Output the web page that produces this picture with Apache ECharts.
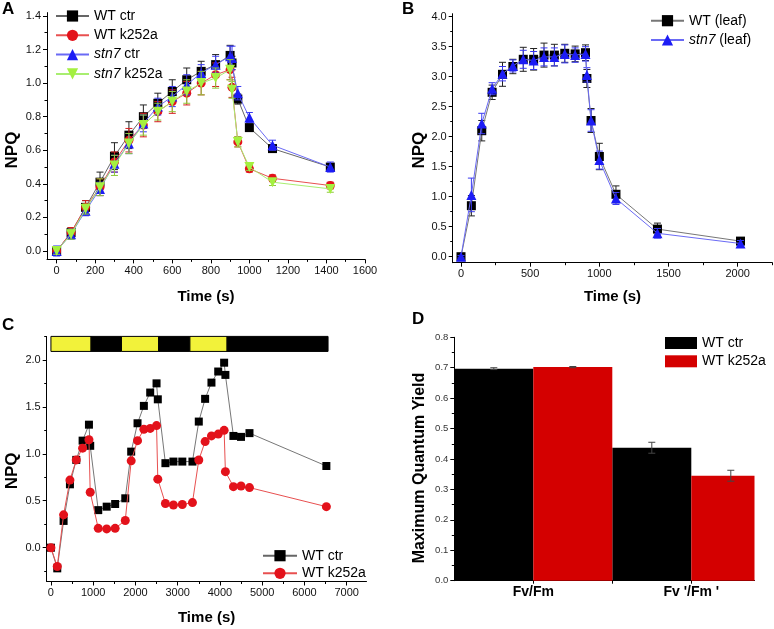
<!DOCTYPE html>
<html>
<head>
<meta charset="utf-8">
<title>NPQ kinetics</title>
<script src="https://cdn.jsdelivr.net/npm/echarts@6.0.0/dist/echarts.min.js"></script>
<style>
  html, body { margin: 0; padding: 0; background: #fff; }
  #chart { width: 774px; height: 629px; }
</style>
</head>
<body>
<div id="chart"></div>
<script>
// ---- panel A: NPQ of isolated samples ----
var timeA = [0, 75, 150, 225, 300, 375, 450, 525, 600, 675, 750, 825, 900, 910, 940, 1000, 1120, 1420];
var wtCtrA = [0, 0.11, 0.26, 0.41, 0.565, 0.69, 0.80, 0.88, 0.95, 1.02, 1.07, 1.11, 1.165, 1.12, 0.905, 0.735, 0.61, 0.50];
var wtCtrAErr = [0.02, 0.03, 0.04, 0.06, 0.08, 0.08, 0.07, 0.06, 0.07, 0.07, 0.06, 0.06, 0.06, 0.04, 0.03, 0.02, 0.02, 0.02];
var wtK252aA = [0, 0.11, 0.26, 0.38, 0.53, 0.66, 0.75, 0.83, 0.89, 0.94, 1.00, 1.05, 1.08, 0.975, 0.65, 0.49, 0.433, 0.39];
var wtK252aAErr = [0.02, 0.03, 0.04, 0.05, 0.06, 0.07, 0.07, 0.06, 0.07, 0.07, 0.07, 0.07, 0.06, 0.06, 0.03, 0.02, 0.02, 0.02];
var stnCtrA = [0, 0.10, 0.24, 0.37, 0.52, 0.64, 0.76, 0.86, 0.92, 0.99, 1.06, 1.11, 1.16, 1.15, 0.94, 0.795, 0.63, 0.50];
var stnCtrAErr = [0.03, 0.03, 0.03, 0.04, 0.05, 0.06, 0.05, 0.05, 0.06, 0.06, 0.05, 0.05, 0.06, 0.07, 0.04, 0.03, 0.03, 0.03];
var stnK252aA = [0, 0.10, 0.25, 0.38, 0.51, 0.64, 0.75, 0.83, 0.89, 0.95, 1.00, 1.03, 1.08, 0.96, 0.65, 0.50, 0.41, 0.37];
var stnK252aAErr = [0.02, 0.03, 0.03, 0.05, 0.06, 0.06, 0.06, 0.05, 0.06, 0.07, 0.07, 0.06, 0.06, 0.05, 0.03, 0.02, 0.02, 0.02];
var xTicksA = [0, 200, 400, 600, 800, 1000, 1200, 1400, 1600];
var xMinorA = [100, 300, 500, 700, 900, 1100, 1300, 1500];
var yTicksA = [0, 0.2, 0.4, 0.6, 0.8, 1.0, 1.2, 1.4];
var yMinorA = [0.1, 0.3, 0.5, 0.7, 0.9, 1.1, 1.3];

// ---- panel B: leaves ----
var timeB = [0, 75, 150, 225, 300, 375, 450, 525, 600, 675, 750, 825, 900, 910, 940, 1000, 1120, 1420, 2020];
var wtLeafB = [0, 0.85, 2.10, 2.74, 3.04, 3.17, 3.29, 3.29, 3.36, 3.36, 3.39, 3.38, 3.40, 2.97, 2.27, 1.67, 1.04, 0.46, 0.26];
var wtLeafBErr = [0.02, 0.17, 0.17, 0.12, 0.20, 0.12, 0.20, 0.18, 0.20, 0.18, 0.15, 0.13, 0.13, 0.15, 0.20, 0.22, 0.14, 0.10, 0.04];
var stnLeafB = [0, 1.03, 2.22, 2.80, 3.05, 3.18, 3.29, 3.27, 3.33, 3.33, 3.38, 3.36, 3.38, 3.03, 2.27, 1.61, 0.97, 0.39, 0.22];
var stnLeafBErr = [0.02, 0.28, 0.17, 0.10, 0.12, 0.10, 0.15, 0.15, 0.15, 0.15, 0.15, 0.12, 0.12, 0.12, 0.18, 0.15, 0.10, 0.08, 0.05];
var xTicksB = [0, 500, 1000, 1500, 2000];
var xMinorB = [250, 750, 1250, 1750, 2250];
var yTicksB = [0, 0.5, 1.0, 1.5, 2.0, 2.5, 3.0, 3.5, 4.0];
var yMinorB = [0.25, 0.75, 1.25, 1.75, 2.25, 2.75, 3.25, 3.75];

// ---- panel C: light / dark cycles ----
var timeC = [0, 150, 300, 450, 600, 750, 900, 930, 1120, 1320, 1520, 1760, 1900, 2050, 2200, 2350, 2500, 2530,
             2710, 2900, 3110, 3350, 3500, 3650, 3800, 3960, 4100, 4130, 4320, 4500, 4700, 6520];
var wtCtrC = [0, -0.22, 0.285, 0.675, 0.935, 1.14, 1.31, 1.085, 0.40, 0.437, 0.465, 0.526, 1.023, 1.325, 1.51, 1.652, 1.75, 1.58,
              0.90, 0.917, 0.917, 0.917, 1.343, 1.585, 1.758, 1.876, 1.97, 1.84, 1.19, 1.18, 1.22, 0.87];
var wtK252aC = [0, -0.20, 0.35, 0.72, 0.935, 1.06, 1.15, 0.59, 0.206, 0.20, 0.206, 0.29, 0.925, 1.14, 1.26, 1.27, 1.30, 0.73,
                0.47, 0.455, 0.46, 0.48, 0.934, 1.13, 1.19, 1.21, 1.25, 0.81, 0.65, 0.657, 0.64, 0.437];
// [start, end, phase]
var phasesC = [[0, 950, 'light'], [950, 1670, 'dark'], [1670, 2550, 'light'], [2550, 3290, 'dark'], [3290, 4170, 'light'], [4170, 6560, 'dark']];
var xTicksC = [0, 1000, 2000, 3000, 4000, 5000, 6000, 7000];
var xMinorC = [500, 1500, 2500, 3500, 4500, 5500, 6500];
var yTicksC = [0, 0.5, 1.0, 1.5, 2.0];
var yMinorC = [-0.25, 0.25, 0.75, 1.25, 1.75, 2.25];

// ---- panel D: maximum quantum yield ----
var categoriesD = ['Fv/Fm', "Fv '/Fm '"];
var wtCtrD = [0.697, 0.437];
var wtCtrDErr = [0.003, 0.018];
var wtK252aD = [0.702, 0.345];
var wtK252aDErr = [0.002, 0.018];
var yTicksD = [0, 0.1, 0.2, 0.3, 0.4, 0.5, 0.6, 0.7, 0.8];
var yMinorD = [0.05, 0.15, 0.25, 0.35, 0.45, 0.55, 0.65, 0.75];

var FONT = "'Liberation Sans', Arial, sans-serif";
var barHalf = 0.25; // half of a group, in x units (bars sit at pos -/+ barHalf)
var barLow = 2.09, barHigh = 2.25; // light bar band in panel C

var chart = echarts.init(document.getElementById('chart'), null, { renderer: 'canvas' });

function fmt1(v) { return v.toFixed(1); }
function fmt0(v) { return String(Math.round(v)); }

function mainAxis(dim, gi, min, max, ticks, fmt, name, nameGap, labelSize, nameShift) {
  var ax = {
    type: 'value', gridIndex: gi, min: min, max: max,
    position: dim === 'x' ? 'bottom' : 'left',
    axisLine: { show: true, onZero: false, lineStyle: { color: '#000', width: 1 } },
    axisTick: { show: true, customValues: ticks, length: 4, lineStyle: { color: '#000', width: 1 } },
    axisLabel: { customValues: ticks, formatter: fmt, fontSize: labelSize || 11, color: '#111', margin: 6, fontFamily: FONT },
    splitLine: { show: false }
  };
  if (name) {
    ax.name = name;
    ax.nameLocation = 'middle';
    ax.nameGap = nameGap;
    ax.nameTextStyle = { fontWeight: 'bold', fontSize: dim === 'x' ? 15 : 17, color: '#000', fontFamily: FONT };
    // push a rotated y title a little downwards
    if (nameShift) ax.nameTextStyle.padding = [0, nameShift * 2, 0, 0];
  }
  return ax;
}
function minorAxis(dim, gi, min, max, ticks) {
  return {
    type: 'value', gridIndex: gi, min: min, max: max,
    position: dim === 'x' ? 'bottom' : 'left',
    axisLine: { show: false, onZero: false },
    axisTick: { show: true, customValues: ticks, length: 2.5, lineStyle: { color: '#000', width: 1 } },
    axisLabel: { show: false },
    splitLine: { show: false }
  };
}

function pairs(xs, ys) { return xs.map(function (x, i) { return [x, ys[i]]; }); }

function lineSeries(name, xs, ys, gi, color, lineColor, symbol, size, z) {
  return {
    type: 'line', name: name, xAxisIndex: gi * 2, yAxisIndex: gi * 2,
    data: pairs(xs, ys), symbol: symbol, symbolSize: size, showSymbol: true,
    itemStyle: { color: color }, lineStyle: { color: lineColor, width: 1 },
    z: z, animation: false
  };
}

function errSeries(xs, ys, es, gi, color, z) {
  return {
    type: 'custom', xAxisIndex: gi * 2, yAxisIndex: gi * 2,
    data: xs.map(function (x, i) { return [x, ys[i], es[i]]; }),
    z: z, silent: true, animation: false,
    renderItem: function (params, api) {
      var x = api.value(0), y = api.value(1), e = api.value(2);
      var top = api.coord([x, y + e]), bot = api.coord([x, y - e]);
      var c = 3.5, st = { stroke: color, lineWidth: 1 };
      return {
        type: 'group', children: [
          { type: 'line', shape: { x1: top[0], y1: top[1], x2: bot[0], y2: bot[1] }, style: st },
          { type: 'line', shape: { x1: top[0] - c, y1: top[1], x2: top[0] + c, y2: top[1] }, style: st },
          { type: 'line', shape: { x1: bot[0] - c, y1: bot[1], x2: bot[0] + c, y2: bot[1] }, style: st }
        ]
      };
    }
  };
}

// bars of panel D, drawn through the axis scales and cut at the plot's right edge
function barSeries(name, ys, side, color) {
  return {
    type: 'custom', name: name, xAxisIndex: 6, yAxisIndex: 6,
    data: pairs(posD, ys), z: 2, silent: true, animation: false,
    renderItem: function (params, api) {
      var p = api.value(0), v = api.value(1);
      var x0 = side < 0 ? p - 2 * barHalf : p;
      var a = api.coord([x0, v]), b = api.coord([x0 + 2 * barHalf, 0]);
      var cs = params.coordSys;
      var right = Math.min(b[0], cs.x + cs.width);
      return {
        type: 'rect',
        shape: { x: a[0], y: a[1], width: right - a[0], height: b[1] - a[1] },
        style: { fill: color }
      };
    }
  };
}

var downTri = 'path://M0,0 L10,0 L5,9 Z';
var yellow = '#f2f23a';
var red = '#e3121b';
var blue = '#1c1cf5';
var green = '#a4f040';

function legendFmt(name) {
  return name.indexOf('stn7') === 0 ? '{it|stn7}' + name.slice(4) : name;
}
function legendText(size) {
  return { fontSize: size, color: '#000', lineHeight: size, fontFamily: FONT,
           rich: { it: { fontStyle: 'italic', fontSize: size, lineHeight: size, fontFamily: FONT } } };
}

var posD = categoriesD.map(function (c, i) { return i + 1; });

var option = {
  animation: false,
  backgroundColor: '#fff',
  textStyle: { fontFamily: FONT },
  grid: [
    { left: 47, top: 12.6, width: 318, height: 246.8 },
    { left: 452.7, top: 13.7, width: 319.6, height: 249 },
    { left: 46.7, top: 336.4, width: 319.8, height: 245.1 },
    { left: 454.3, top: 337.3, width: 300.2, height: 243.4 }
  ],
  xAxis: [
    mainAxis('x', 0, -50, 1600, xTicksA, fmt0, 'Time (s)', 30),
    minorAxis('x', 0, -50, 1600, xMinorA),
    mainAxis('x', 1, -60, 2250, xTicksB, fmt0, 'Time (s)', 27),
    minorAxis('x', 1, -60, 2250, xMinorB),
    mainAxis('x', 2, -100, 7470, xTicksC, fmt0, 'Time (s)', 29),
    minorAxis('x', 2, -100, 7470, xMinorC),
    (function () {
      var ax = mainAxis('x', 3, 0.5, 2.4, posD, function (v) { return categoriesD[Math.round(v) - 1]; }, null, 0, 14);
      ax.axisLabel.fontWeight = 'bold';
      ax.axisLabel.color = '#000';
      ax.axisLabel.margin = 4;
      ax.axisTick.customValues = [1, 1.5, 2];
      ax.axisTick.length = 3;
      return ax;
    })(),
    minorAxis('x', 3, 0.5, 2.4, [])
  ],
  yAxis: [
    mainAxis('y', 0, -0.05, 1.42, yTicksA, fmt1, 'NPQ', 26, 11, 14),
    minorAxis('y', 0, -0.05, 1.42, yMinorA),
    mainAxis('y', 1, -0.1, 4.05, yTicksB, fmt1, 'NPQ', 17, 11, 12),
    minorAxis('y', 1, -0.1, 4.05, yMinorB),
    mainAxis('y', 2, -0.36, 2.25, yTicksC, fmt1, 'NPQ', 26, 11, 12),
    minorAxis('y', 2, -0.36, 2.25, yMinorC),
    (function () {
      var ax = mainAxis('y', 3, 0, 0.8, yTicksD, fmt1, 'Maximum Quantum Yield', 27, 9.5, 9);
      ax.nameTextStyle.fontSize = 16;
      ax.axisLabel.color = '#333';
      return ax;
    })(),
    minorAxis('y', 3, 0, 0.8, yMinorD)
  ],
  legend: [
    {
      data: ['WT ctr', 'WT k252a', 'stn7 ctr', 'stn7 k252a'],
      orient: 'vertical', left: 55, top: 9, padding: 0,
      itemWidth: 33, itemHeight: 14, itemGap: 5.3,
      formatter: legendFmt, textStyle: legendText(14), selectedMode: false
    },
    {
      data: ['WT (leaf)', 'stn7 (leaf)'],
      orient: 'vertical', left: 650, top: 13.7, padding: 0,
      itemWidth: 33, itemHeight: 14, itemGap: 5.3,
      formatter: legendFmt, textStyle: legendText(14), selectedMode: false
    },
    {
      data: ['WT ctr', 'WT k252a'],
      orient: 'vertical', left: 262, top: 548.7, padding: 0,
      itemWidth: 34, itemHeight: 14, itemGap: 3.6,
      formatter: legendFmt, textStyle: legendText(14), selectedMode: false
    },
    {
      data: [
        { name: 'WT ctr', icon: 'rect', itemStyle: { color: '#000', borderWidth: 0 } },
        { name: 'WT k252a', icon: 'rect', itemStyle: { color: '#d40000', borderWidth: 0 } }
      ],
      orient: 'vertical', left: 665, top: 336, padding: 0,
      itemWidth: 32, itemHeight: 12, itemGap: 4.3,
      textStyle: legendText(14), selectedMode: false
    }
  ],
  graphic: [
    { type: 'text', left: 2, top: 1, style: { text: 'A', font: 'bold 17px ' + FONT, fill: '#000' } },
    { type: 'text', left: 402, top: 1, style: { text: 'B', font: 'bold 17px ' + FONT, fill: '#000' } },
    { type: 'text', left: 2, top: 317, style: { text: 'C', font: 'bold 17px ' + FONT, fill: '#000' } },
    { type: 'text', left: 412, top: 311, style: { text: 'D', font: 'bold 17px ' + FONT, fill: '#000' } }
  ],
  series: [
    // A
    errSeries(timeA, wtCtrA, wtCtrAErr, 0, '#222', 2),
    lineSeries('WT ctr', timeA, wtCtrA, 0, '#000', '#666', 'rect', 9, 3),
    errSeries(timeA, wtK252aA, wtK252aAErr, 0, '#d42020', 4),
    lineSeries('WT k252a', timeA, wtK252aA, 0, red, '#e85050', 'circle', 9, 5),
    errSeries(timeA, stnCtrA, stnCtrAErr, 0, '#3a3af0', 6),
    lineSeries('stn7 ctr', timeA, stnCtrA, 0, blue, '#6a6af5', 'triangle', 10, 7),
    errSeries(timeA, stnK252aA, stnK252aAErr, 0, '#8fc83a', 8),
    lineSeries('stn7 k252a', timeA, stnK252aA, 0, green, '#a8ee70', downTri, 10, 9),
    // B
    errSeries(timeB, wtLeafB, wtLeafBErr, 1, '#222', 2),
    lineSeries('WT (leaf)', timeB, wtLeafB, 1, '#000', '#777', 'rect', 9, 3),
    errSeries(timeB, stnLeafB, stnLeafBErr, 1, '#3a3af0', 4),
    lineSeries('stn7 (leaf)', timeB, stnLeafB, 1, blue, '#6a6af5', 'triangle', 10, 5),
    // C
    (function () {
      var s = lineSeries('WT ctr', timeC, wtCtrC, 2, '#000', '#777', 'rect', 8, 3);
      s.markArea = {
        silent: true,
        label: { show: false },
        itemStyle: { borderColor: '#000', borderWidth: 1 },
        data: phasesC.map(function (p) {
          return [
            { xAxis: p[0], yAxis: barLow, itemStyle: { color: p[2] === 'light' ? yellow : '#000', borderColor: '#000', borderWidth: 1 } },
            { xAxis: p[1], yAxis: barHigh }
          ];
        })
      };
      return s;
    })(),
    lineSeries('WT k252a', timeC, wtK252aC, 2, red, '#e85050', 'circle', 9, 4),
    // D
    barSeries('WT ctr', wtCtrD, -1, '#000'),
    barSeries('WT k252a', wtK252aD, 1, '#d40000'),
    errSeries(posD.map(function (p) { return p - barHalf; }), wtCtrD, wtCtrDErr, 3, '#444', 3),
    errSeries(posD.map(function (p) { return p + barHalf; }), wtK252aD, wtK252aDErr, 3, '#444', 3)
  ]
};

chart.setOption(option);
</script>
</body>
</html>
